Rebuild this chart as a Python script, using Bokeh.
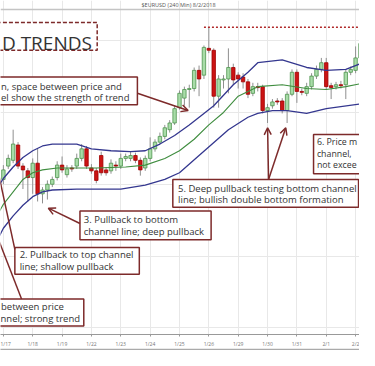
import numpy as np
from bokeh.plotting import figure
from bokeh.models import (ColumnDataSource, FixedTicker, LinearAxis, Range1d,
                          Arrow, OpenHead, Span, Grid)
from bokeh.core.properties import value
from bokeh.embed import file_html
from bokeh.resources import INLINE

# ---------------- data ----------------
chart_title = "$EURUSD (240 Min) 8/2/2018"
day_labels = ["1/17", "1/18", "1/19", "1/22", "1/23", "1/24", "1/25",
              "1/26", "1/29", "1/30", "1/31", "2/1", "2/2"]
day_ticks = [0, 6, 12, 18, 24, 30, 36, 42, 48, 54, 60, 66, 72]
grid_levels = [1.2523, 1.2448, 1.2373, 1.2298, 1.2223]

candle_idx = list(range(74))
opens = [1.2378, 1.2392, 1.2398, 1.2414, 1.2392, 1.2387, 1.2380, 1.2395, 1.2363, 1.2367,
         1.2373, 1.2380, 1.2393, 1.2383, 1.2390, 1.2392, 1.2400, 1.2410, 1.2390, 1.2387,
         1.2403, 1.2388, 1.2387, 1.2393, 1.2392, 1.2400, 1.2400, 1.2403, 1.2398, 1.2390,
         1.2400, 1.2410, 1.2417, 1.2423, 1.2430, 1.2437, 1.2453, 1.2463, 1.2472, 1.2473,
         1.2492, 1.2487, 1.2515, 1.2513, 1.2465, 1.2482, 1.2483, 1.2495, 1.2487, 1.2485,
         1.2480, 1.2468, 1.2475, 1.2475, 1.2450, 1.2455, 1.2460, 1.2460, 1.2450, 1.2467,
         1.2490, 1.2470, 1.2468, 1.2475, 1.2486, 1.2493, 1.2500, 1.2476, 1.2475, 1.2477,
         1.2477, 1.2490, 1.2492, 1.2505]
highs = [1.2393, 1.2404, 1.2430, 1.2417, 1.2395, 1.2390, 1.2400, 1.2410, 1.2370, 1.2377,
         1.2381, 1.2397, 1.2402, 1.2393, 1.2393, 1.2405, 1.2415, 1.2413, 1.2394, 1.2390,
         1.2407, 1.2391, 1.2399, 1.2397, 1.2405, 1.2405, 1.2407, 1.2406, 1.2401, 1.2403,
         1.2422, 1.2420, 1.2427, 1.2435, 1.2440, 1.2455, 1.2471, 1.2475, 1.2477, 1.2495,
         1.2497, 1.2518, 1.2537, 1.2515, 1.2487, 1.2487, 1.2515, 1.2499, 1.2490, 1.2489,
         1.2483, 1.2479, 1.2479, 1.2477, 1.2457, 1.2462, 1.2463, 1.2463, 1.2470, 1.2493,
         1.2493, 1.2473, 1.2479, 1.2489, 1.2497, 1.2505, 1.2505, 1.2479, 1.2480, 1.2481,
         1.2493, 1.2496, 1.2517, 1.2523]
lows = [1.2373, 1.2389, 1.2395, 1.2389, 1.2368, 1.2355, 1.2363, 1.2355, 1.2353, 1.2357,
        1.2370, 1.2377, 1.2385, 1.2380, 1.2386, 1.2389, 1.2397, 1.2389, 1.2384, 1.2374,
        1.2382, 1.2382, 1.2384, 1.2387, 1.2389, 1.2397, 1.2397, 1.2395, 1.2382, 1.2387,
        1.2397, 1.2407, 1.2415, 1.2420, 1.2427, 1.2435, 1.2451, 1.2455, 1.2453, 1.2470,
        1.2465, 1.2483, 1.2510, 1.2453, 1.2453, 1.2473, 1.2468, 1.2477, 1.2473, 1.2473,
        1.2463, 1.2465, 1.2470, 1.2447, 1.2437, 1.2452, 1.2456, 1.2447, 1.2437, 1.2465,
        1.2458, 1.2466, 1.2465, 1.2472, 1.2483, 1.2490, 1.2472, 1.2462, 1.2472, 1.2473,
        1.2462, 1.2487, 1.2489, 1.2502]
closes = [1.2388, 1.2400, 1.2415, 1.2392, 1.2388, 1.2380, 1.2395, 1.2363, 1.2367, 1.2373,
          1.2378, 1.2393, 1.2388, 1.2389, 1.2389, 1.2400, 1.2410, 1.2392, 1.2387, 1.2377,
          1.2385, 1.2385, 1.2395, 1.2392, 1.2400, 1.2402, 1.2403, 1.2398, 1.2388, 1.2400,
          1.2410, 1.2417, 1.2423, 1.2432, 1.2437, 1.2452, 1.2468, 1.2472, 1.2473, 1.2492,
          1.2483, 1.2516, 1.2513, 1.2465, 1.2483, 1.2483, 1.2495, 1.2482, 1.2483, 1.2480,
          1.2467, 1.2475, 1.2474, 1.2450, 1.2453, 1.2459, 1.2459, 1.2450, 1.2467, 1.2490,
          1.2470, 1.2469, 1.2475, 1.2486, 1.2493, 1.2500, 1.2475, 1.2474, 1.2477, 1.2476,
          1.2490, 1.2493, 1.2505, 1.2520]

upper_idx = [-1, 0, 2, 4, 6, 8, 10, 15, 18, 22, 26, 29, 32, 35, 38, 41, 43, 47, 50, 52, 57, 62, 66, 70, 73]
upper_vals = [1.2371, 1.2379, 1.2391, 1.2401, 1.2408, 1.2413, 1.2415, 1.2415, 1.2410, 1.2408,
              1.2407, 1.2408, 1.2415, 1.2424, 1.2435, 1.2447, 1.2455, 1.2477, 1.2490, 1.2500,
              1.2503, 1.2495, 1.2492, 1.2493, 1.2499]
mid_idx = [-1, 0, 2, 4, 6, 8, 11, 19, 25, 29, 33, 36, 39, 42, 45, 48, 52, 57, 62, 66, 70, 73]
mid_vals = [1.2343, 1.2352, 1.2365, 1.2378, 1.2385, 1.2388, 1.2390, 1.2390, 1.2391, 1.2393,
            1.2400, 1.2408, 1.2420, 1.2435, 1.2448, 1.2465, 1.2475, 1.2477, 1.2473, 1.2472,
            1.2475, 1.2478]
lower_idx = [-1, 0, 2, 4, 6, 8, 10, 15, 24, 29, 33, 36, 40, 46, 50, 52, 55, 58, 62, 66, 73]
lower_vals = [1.2317, 1.2327, 1.2340, 1.2351, 1.2360, 1.2365, 1.2367, 1.2368, 1.2368, 1.2372,
              1.2378, 1.2385, 1.2403, 1.2430, 1.2443, 1.2447, 1.2450, 1.2450, 1.2447, 1.2452,
              1.2457]

# ---------------- layout helpers (reference pixel -> data) ----------------
def X(rx):
    return (rx - 3) / 5.11

def Y(ry):
    return 1.2565 - ry / 10000.0

FONT = value("Open Sans")
ANN = "#7d2a2a"

p = figure(width=359, height=350,
           x_range=Range1d(X(0), X(375)), y_range=Range1d(Y(349), Y(0)),
           y_axis_location=None, output_backend="svg", toolbar_location=None,
           min_border_left=0, min_border_right=0, min_border_top=0, min_border_bottom=16)
p.outline_line_color = None
p.background_fill_color = "white"
p.border_fill_color = "white"

p.xgrid.ticker = FixedTicker(ticks=day_ticks)
p.xgrid.grid_line_color = "#e8e8e8"
if len(p.ygrid) > 0:
    for g in p.ygrid:
        g.ticker = FixedTicker(ticks=grid_levels)
        g.grid_line_color = "#e8e8e8"
else:
    p.add_layout(Grid(dimension=1, ticker=FixedTicker(ticks=grid_levels), grid_line_color="#e8e8e8"))

xa = p.xaxis[0]
xa.ticker = FixedTicker(ticks=day_ticks)
xa.major_label_overrides = {t: s for t, s in zip(day_ticks, day_labels)}
xa.major_label_text_font_size = "5px"
xa.major_label_text_color = "#777777"
xa.major_label_text_font = "Open Sans"
xa.axis_line_color = "#999999"
xa.major_tick_line_color = "#999999"
xa.major_tick_out = 2
xa.major_tick_in = 0
xa.minor_tick_line_color = None
xa.major_label_standoff = 4

ax2 = LinearAxis(ticker=FixedTicker(ticks=[]), axis_line_color="#aaaaaa", axis_line_width=1.5,
                 major_tick_line_color=None, minor_tick_line_color=None,
                 major_label_text_font_size="0px", major_label_standoff=0,
                 major_tick_out=0, minor_tick_out=0)
p.add_layout(ax2, "below")

# title strip
p.add_layout(Span(location=Y(9.5), dimension="width", line_color="#c4c4c4", line_width=1.5))
p.text(x=[X(186)], y=[Y(5)], text=[chart_title], text_align="center", text_baseline="middle",
       text_font_size="5.5px", text_color="#555555", text_font=FONT)

# candles
x = np.array(candle_idx, dtype=float)
o = np.array(opens); h = np.array(highs); l = np.array(lows); c = np.array(closes)
inc = c >= o
dec = ~inc
p.segment(x0=x, y0=h, x1=x, y1=l, line_color="#8f8f8f", line_width=1)
p.vbar(x=x[inc], width=0.7, top=c[inc], bottom=o[inc],
       fill_color="#a8dca8", line_color="#4f944f", line_width=0.8)
p.vbar(x=x[dec], width=0.7, top=o[dec], bottom=c[dec],
       fill_color="#cc1414", line_color="#a00000", line_width=0.8)

# channel lines
p.line(upper_idx, upper_vals, line_color="#34378f", line_width=1.3)
p.line(lower_idx, lower_vals, line_color="#34378f", line_width=1.3)
p.line(mid_idx, mid_vals, line_color="#3f8d3f", line_width=1.1)

# dotted line at the top
top_i = int(np.argmax(h))
p.segment(x0=[x[top_i] - 1], y0=[h[top_i]], x1=[X(380)], y1=[h[top_i]],
          line_color="#b02a2a", line_width=1.6, line_dash="2 2")

# annotation boxes
boxes = [(-10, 143, 80, 109), (83, 220, 220, 250), (15, 145, 258, 286),
         (-10, 87, 312, 340), (180, 374, 187, 216), (327, 385, 140, 181)]
p.quad(left=[X(b[0]) for b in boxes], right=[X(b[1]) for b in boxes],
       top=[Y(b[2]) for b in boxes], bottom=[Y(b[3]) for b in boxes],
       fill_color="white", line_color=ANN, line_width=1.5)
p.quad(left=[X(-10)], right=[X(101)], top=[Y(23)], bottom=[Y(52)],
       fill_color="white", line_color=ANN, line_width=1.5, line_dash="4 2")

p.text(x=[X(1.5)], y=[Y(44)], text=["D TRENDS"], text_align="left", text_baseline="alphabetic",
       text_font_size="19px", text_color="#333333", text_font=FONT)

lines = [
    (0.5, 90, "n, space between price and"),
    (0.5, 101.5, "el show the strength of trend"),
    (87, 229, "3. Pullback to bottom"),
    (87, 241, "channel line; deep pullback"),
    (20, 265.5, "2. Pullback to top channel"),
    (20, 278, "line; shallow pullback"),
    (0.5, 320, " between price"),
    (0, 332, "nnel; strong trend"),
    (185.5, 196, "5. Deep pullback testing bottom channel"),
    (185.5, 207.5, "line; bullish double bottom formation"),
]
p.text(x=[X(a) for a, _, _ in lines], y=[Y(b) for _, b, _ in lines], text=[t for _, _, t in lines],
       text_align="left", text_baseline="middle", text_font_size="9.5px",
       text_color="#333333", text_font=FONT)

side_lines = [
    (330.5, 148, "6. Price m"),
    (330.5, 160, "channel,"),
    (330.5, 172, "not excee"),
]
p.text(x=[X(a) for a, _, _ in side_lines], y=[Y(b) for _, b, _ in side_lines],
       text=[t for _, _, t in side_lines],
       text_align="left", text_baseline="middle", text_font_size="8.8px",
       text_color="#333333", text_font=FONT)

# arrows
arrows = [((143, 97), (196, 115)), ((83, 233), (50, 217)),
          ((280, 187), (279, 133)), ((280, 187), (298, 133))]
for (sx, sy), (ex, ey) in arrows:
    p.add_layout(Arrow(end=OpenHead(size=7, line_color=ANN, line_width=1.5),
                       x_start=X(sx), y_start=Y(sy), x_end=X(ex), y_end=Y(ey),
                       line_color=ANN, line_width=1.5))
p.segment(x0=[X(15), X(22)], y0=[Y(260), Y(312)], x1=[X(-4), X(-4)], y1=[Y(172), Y(245)],
          line_color=ANN, line_width=1.5)

open("out.html", "w").write(file_html(p, INLINE))
